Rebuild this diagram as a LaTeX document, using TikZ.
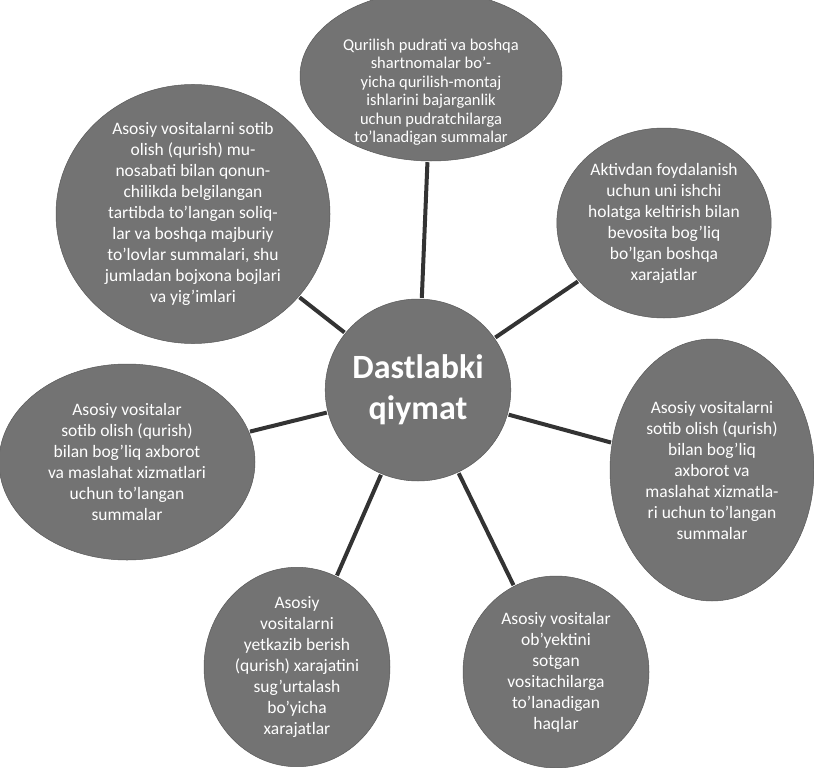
\documentclass[tikz,border=0pt]{standalone}
\usepackage{fontspec}
\setmainfont{Carlito}
\usetikzlibrary{shapes.geometric}

\tikzset{
  blob/.style={ellipse, fill=black!55, draw=black!65, line width=0.5pt,
    inner sep=0pt, text=white, align=center,
    font=\fontsize{17.5}{21}\selectfont},
  caption/.style={text=white, align=center, inner sep=0pt,
    font=\fontsize{16.5}{18.5}\selectfont},
  hub/.style={blob, font=\bfseries\fontsize{34}{41}\selectfont},
  spoke/.style={line width=4pt, draw=black!80, shorten <=1pt, shorten >=1pt}
}

\begin{document}
\begin{tikzpicture}[x=1pt, y=-1pt]
  \useasboundingbox (0,0) rectangle (814,768);
  \clip (0,0) rectangle (814,768);

  % central node
  \node[hub, minimum width=180, minimum height=182] (c) at (418,390)
    {Dastlabki\\qiymat};

  % surrounding components of the initial cost
  \node[blob, minimum width=262, minimum height=170] (t) at (431,76) {};
  \node[caption] (ttext) at (431,92)
    {Qurilish pudrati va boshqa\\shartnomalar bo'-\\yicha qurilish-montaj\\ishlarini bajarganlik\\uchun pudratchilarga\\to'lanadigan summalar};

  \node[blob, minimum width=212, minimum height=190] (ur) at (664,223)
    {Aktivdan foydalanish\\uchun uni ishchi\\holatga keltirish bilan\\bevosita bog'liq\\bo'lgan boshqa\\xarajatlar};

  \node[blob, minimum width=274, minimum height=232] (ul) at (193,214)
    {Asosiy vositalarni sotib\\olish (qurish) mu-\\nosabati bilan qonun-\\chilikda belgilangan\\tartibda to'langan soliq-\\lar va boshqa majburiy\\to'lovlar summalari, shu\\jumladan bojxona bojlari\\va yig'imlari};

  \node[blob, minimum width=256, minimum height=196] (l) at (127,462)
    {Asosiy vositalar\\sotib olish (qurish)\\bilan bog'liq axborot\\va maslahat xizmatlari\\uchun to'langan\\summalar};

  \node[blob, minimum width=204, minimum height=262] (r) at (712,470)
    {Asosiy vositalarni\\sotib olish (qurish)\\bilan bog'liq\\axborot va\\maslahat xizmatla-\\ri uchun to'langan\\summalar};

  \node[blob, minimum width=186, minimum height=186] (bl) at (297,667)
    {Asosiy\\vositalarni\\yetkazib berish\\(qurish) xarajatini\\sug'urtalash\\bo'yicha\\xarajatlar};

  \node[blob, minimum width=186, minimum height=192] (br) at (556,672)
    {Asosiy vositalar\\ob'yektini\\sotgan\\vositachilarga\\to'lanadigan\\haqlar};

  % spokes from the hub
  \foreach \n in {t,ur,ul,l,r,bl,br}
    \draw[spoke] (c) -- (\n);
\end{tikzpicture}
\end{document}
